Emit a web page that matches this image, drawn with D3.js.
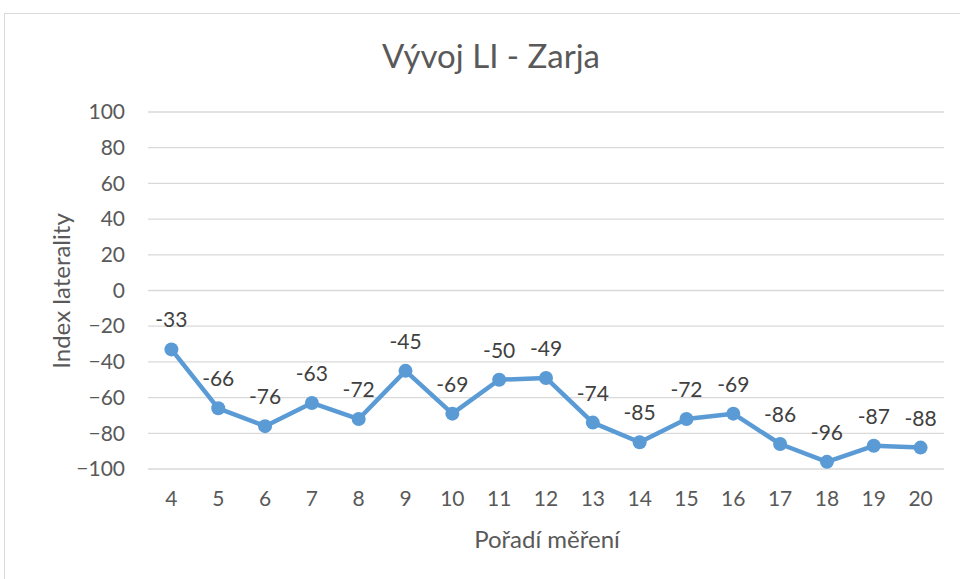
<!DOCTYPE html>
<html>
<head>
<meta charset="utf-8">
<script src="https://cdn.jsdelivr.net/npm/d3@7"></script>
<style>
  body { margin: 0; background: #fff; }
  text { font-family: Lato, "Open Sans", sans-serif; fill: #595959; }
</style>
</head>
<body>
<div id="chart"></div>
<script>
// data
const measurements = ["4","5","6","7","8","9","10","11","12","13","14","15","16","17","18","19","20"];
const liValues = [-33, -66, -76, -63, -72, -45, -69, -50, -49, -74, -85, -72, -69, -86, -96, -87, -88];
const yTicks = [-100, -80, -60, -40, -20, 0, 20, 40, 60, 80, 100];

const width = 960, height = 579;
const plot = { left: 148, right: 944, top: 112, bottom: 469 };

const svg = d3.select("#chart").append("svg")
    .attr("width", width)
    .attr("height", height);

// chart frame
svg.append("rect")
    .attr("x", 4.5).attr("y", 13.5)
    .attr("width", 970).attr("height", 600)
    .attr("fill", "none")
    .attr("stroke", "#d9d9d9");

const x = d3.scaleBand()
    .domain(measurements)
    .range([plot.left, plot.right]);

const y = d3.scaleLinear()
    .domain([-100, 100])
    .range([plot.bottom, plot.top]);

// gridlines
svg.append("g")
    .selectAll("line")
    .data(yTicks)
    .join("line")
    .attr("x1", plot.left).attr("x2", plot.right)
    .attr("y1", d => y(d)).attr("y2", d => y(d))
    .attr("stroke", "#d9d9d9")
    .attr("stroke-width", 1.3);

// y axis labels
const yAxis = svg.append("g")
    .attr("transform", `translate(${plot.left - 10},0)`)
    .call(d3.axisLeft(y).tickValues(yTicks).tickSize(0).tickPadding(13));
yAxis.select(".domain").remove();
yAxis.selectAll("text")
    .style("font-size", "21px")
    .style("font-family", "Lato, sans-serif")
    .attr("fill", "#595959");

// x axis labels
const xAxis = svg.append("g")
    .attr("transform", `translate(0,${plot.bottom + 22})`)
    .call(d3.axisBottom(x).tickSize(0).tickPadding(0));
xAxis.select(".domain").remove();
xAxis.selectAll("text")
    .style("font-size", "21px")
    .style("font-family", "Lato, sans-serif")
    .attr("fill", "#595959");

// title
svg.append("text")
    .attr("x", 491).attr("y", 68)
    .attr("text-anchor", "middle")
    .style("font-size", "33px")
    .text("Vývoj LI - Zarja");

// axis titles
svg.append("text")
    .attr("transform", "translate(70,291) rotate(-90)")
    .attr("text-anchor", "middle")
    .style("font-size", "24px")
    .text("Index laterality");

svg.append("text")
    .attr("x", 547).attr("y", 548)
    .attr("text-anchor", "middle")
    .style("font-size", "24px")
    .text("Pořadí měření");

// line
const line = d3.line()
    .x((d, i) => x(measurements[i]) + x.bandwidth() / 2)
    .y(d => y(d));

svg.append("path")
    .datum(liValues)
    .attr("d", line)
    .attr("fill", "none")
    .attr("stroke", "#5b9bd5")
    .attr("stroke-width", 4.5)
    .attr("stroke-linejoin", "round");

// markers
svg.append("g")
    .selectAll("circle")
    .data(liValues)
    .join("circle")
    .attr("cx", (d, i) => x(measurements[i]) + x.bandwidth() / 2)
    .attr("cy", d => y(d))
    .attr("r", 7)
    .attr("fill", "#5b9bd5");

// data labels
svg.append("g")
    .selectAll("text")
    .data(liValues)
    .join("text")
    .attr("x", (d, i) => x(measurements[i]) + x.bandwidth() / 2)
    .attr("y", d => y(d) - 22)
    .attr("text-anchor", "middle")
    .style("font-size", "21px")
    .style("fill", "#404040")
    .text(d => d);
</script>
</body>
</html>
